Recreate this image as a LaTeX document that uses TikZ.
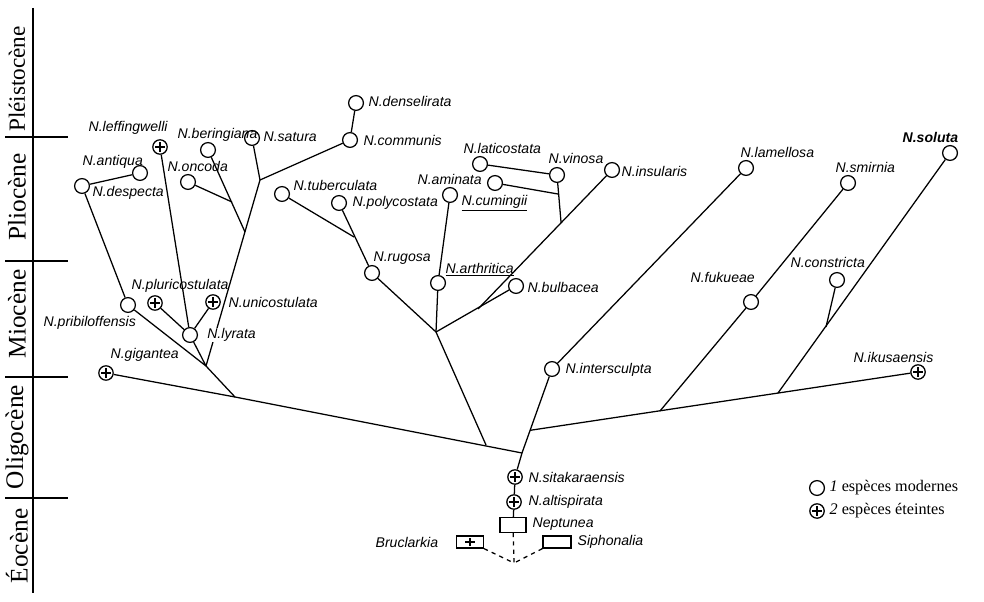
\documentclass[tikz,border=0pt]{standalone}
\usepackage{fontspec}
\setmainfont{Liberation Serif}
\newfontfamily\labfont{Liberation Sans}
\usetikzlibrary{calc}

\begin{document}
\begin{tikzpicture}[x=0.025cm,y=-0.025cm,line width=0.9pt,
   vivant/.style={circle,draw,line width=0.9pt,minimum size=0.37cm,inner sep=0pt},
   eteint/.style={vivant,minimum size=0.36cm,path picture={
      \draw[line width=0.8pt] ([xshift=-1.2mm]path picture bounding box.center) -- ([xshift=1.2mm]path picture bounding box.center)
            ([yshift=-1.2mm]path picture bounding box.center) -- ([yshift=1.2mm]path picture bounding box.center);}},
   genre/.style={rectangle,draw,line width=0.9pt,minimum width=0.65cm,minimum height=0.36cm,inner sep=0pt},
   nom/.style={anchor=west,inner sep=0pt,font=\labfont\itshape\fontsize{10}{12}\selectfont},
   epoque/.style={rotate=90,inner sep=0pt,font=\fontsize{18}{20}\selectfont}]
   \useasboundingbox (0,0) rectangle (984,602);

   % echelle des temps
   \draw (33,8) -- (33,593);
   \foreach \y in {137,261,377,498} \draw (5,\y) -- (68,\y);
   \node[epoque,font=\fontsize{16.5}{18}\selectfont] (pleis) at (17,79) {Pléistocène};
   \node[epoque] (plio) at (17,197) {Pliocène};
   \node[epoque] (mio) at (17,314) {Miocène};
   \node[epoque] (oligo) at (17,437) {Oligocène};
   \node[epoque] (eo) at (17,546) {Éocène};

   % especes modernes
   \node[vivant] (dens) at (356,103) {};
   \node[vivant] (comm) at (350,140) {};
   \node[vivant] (sat) at (252,138) {};
   \node[vivant] (ber) at (208,150) {};
   \node[vivant] (onc) at (188,182) {};
   \node[vivant] (antq) at (140,173) {};
   \node[vivant] (desp) at (82,186) {};
   \node[vivant] (tub) at (282,194) {};
   \node[vivant] (poly) at (339,203) {};
   \node[vivant] (rug) at (372,273) {};
   \node[vivant] (amin) at (450,195) {};
   \node[vivant] (arth) at (438,283) {};
   \node[vivant] (cum) at (495,183) {};
   \node[vivant] (lat) at (480,164) {};
   \node[vivant] (vin) at (557,175) {};
   \node[vivant] (ins) at (612,170) {};
   \node[vivant] (bulb) at (516,286) {};
   \node[vivant] (lam) at (746,168) {};
   \node[vivant] (smir) at (848,183) {};
   \node[vivant] (fuk) at (751,302) {};
   \node[vivant] (sol) at (950,153) {};
   \node[vivant] (cons) at (837,280) {};
   \node[vivant] (inter) at (552,369) {};
   \node[vivant] (prib) at (128,305) {};
   \node[vivant] (lyr) at (190,335) {};

   % especes eteintes
   \node[eteint] (leff) at (160,147) {};
   \node[eteint] (plu) at (155,303) {};
   \node[eteint] (uni) at (213,302) {};
   \node[eteint] (gig) at (106,373) {};
   \node[eteint] (iku) at (918,372) {};
   \node[eteint] (sita) at (515,477) {};
   \node[eteint] (alti) at (514,502) {};

   % genres
   \node[genre] (nept) at (513,525) {};
   \node[genre,minimum width=0.67cm,minimum height=0.3cm,path picture={
      \draw ([xshift=-1.2mm]path picture bounding box.center) -- ([xshift=1.2mm]path picture bounding box.center)
            ([yshift=-1mm]path picture bounding box.center) -- ([yshift=1mm]path picture bounding box.center);}] (bruc) at (470,542) {};
   \node[genre,minimum width=0.7cm,minimum height=0.3cm] (siph) at (557,542) {};

   % points de branchement
   \coordinate (rac) at (522,453);
   \coordinate (j0) at (235,397);
   \coordinate (jLy) at (206,366);
   \coordinate (jSat) at (260,180);
   \coordinate (jBs) at (245,232);
   \coordinate (jOnc) at (232,202);
   \coordinate (jTub) at (354,237);
   \coordinate (jC) at (436,332);
   \coordinate (jArt) at (486,445);
   \coordinate (jIns) at (478,309);
   \coordinate (jVin) at ($(ins)!0.38!(jIns)$);
   \coordinate (jCum) at ($(vin)!0.4!(jVin)$);
   \coordinate (jR) at ($(inter)!0.73!(rac)$);
   \coordinate (jFuk) at (660,411);
   \coordinate (jSol) at (778,393);
   \coordinate (jCons) at (826,327);
   \coordinate (jBas) at (514,563);

   % branches
   \draw (gig) -- (j0) -- (rac);
   \draw (prib) -- (jLy) -- (j0);
   \draw (desp) -- (prib);
   \draw (desp) -- (antq);
   \draw (lyr) -- (jLy);
   \draw (plu) -- (lyr);
   \draw (uni) -- (lyr);
   \draw (leff) -- (lyr);
   \draw (comm) -- (jSat) -- (jLy);
   \draw (dens) -- (comm);
   \draw (sat) -- (jSat);
   \draw (ber) -- (jBs);
   \draw (onc) -- (jOnc);
   \draw (tub) -- (jTub);
   \draw (poly) -- (rug);
   \draw (rug) -- (jC);
   \draw (amin) -- (arth);
   \draw (arth) -- (jC);
   \draw (jC) -- (jArt);
   \draw (jC) -- (bulb);
   \draw (ins) -- (jIns);
   \draw (lat) -- (vin);
   \draw (vin) -- (jVin);
   \draw (cum) -- (jCum);
   \draw (lam) -- (inter);
   \draw (inter) -- (rac);
   \draw (jR) -- (iku);
   \draw (smir) -- (fuk);
   \draw (fuk) -- (jFuk);
   \draw (sol) -- (jSol);
   \draw (cons) -- (jCons);
   \draw (rac) -- (sita) -- (alti) -- (nept);
   \draw[dashed] (nept) -- (jBas);
   \draw[dashed] (bruc.south east) -- (jBas);
   \draw[dashed] (siph.south west) -- (jBas);

   % noms
   \node[nom] (n-dens) at (368,101) {N.denselirata};
   \node[nom] (n-comm) at (363,140) {N.communis};
   \node[nom] (n-sat) at (263,137) {N.satura};
   \node[nom] (n-ber) at (177,135) {N.beringiana};
   \node[nom] (n-leff) at (88,128) {N.leffingwelli};
   \node[nom] (n-antq) at (82,162) {N.antiqua};
   \node[nom] (n-desp) at (92,193) {N.despecta};
   \node[nom] (n-onc) at (167,166) {N.oncoda};
   \node[nom] (n-tub) at (293,185) {N.tuberculata};
   \node[nom] (n-poly) at (352,203) {N.polycostata};
   \node[nom] (n-rug) at (373,258) {N.rugosa};
   \node[nom] (n-amin) at (417,179) {N.aminata};
   \node[nom] (n-arth) at (445,270) {\underline{N.arthritica}};
   \node[nom] (n-cum) at (461,203) {\underline{N.cumingii}};
   \node[nom] (n-lat) at (463,148) {N.laticostata};
   \node[nom] (n-vin) at (548,158) {N.vinosa};
   \node[nom] (n-ins) at (621,171) {N.insularis};
   \node[nom] (n-bulb) at (527,287) {N.bulbacea};
   \node[nom] (n-lam) at (740,152) {N.lamellosa};
   \node[nom] (n-smir) at (835,167) {N.smirnia};
   \node[nom] (n-fuk) at (690,277) {N.fukueae};
   \node[nom] (n-sol) at (902,137) {\bfseries N.soluta};
   \node[nom] (n-cons) at (790,262) {N.constricta};
   \node[nom] (n-iku) at (853,357) {N.ikusaensis};
   \node[nom] (n-inter) at (565,370) {N.intersculpta};
   \node[nom] (n-plu) at (131,286) {N.pluricostulata};
   \node[nom] (n-uni) at (228,302) {N.unicostulata};
   \node[nom,fill=white,inner sep=0.5pt] (n-lyr) at (206,335) {N.lyrata};
   \node[nom] (n-prib) at (43,323) {N.pribiloffensis};
   \node[nom] (n-gig) at (110,355) {N.gigantea};
   \node[nom] (n-sita) at (528,477) {N.sitakaraensis};
   \node[nom] (n-alti) at (528,502) {N.altispirata};
   \node[nom] (n-nept) at (532,524) {Neptunea};
   \node[nom] (n-bruc) at (375,542) {Bruclarkia};
   \node[nom] (n-siph) at (577,542) {Siphonalia};

   % legende
   \node[vivant] (leg1) at (817,488) {};
   \node[eteint] (leg2) at (817,511) {};
   \node[anchor=west,inner sep=0pt,font=\fontsize{11.5}{13}\selectfont] (t-leg1) at (829,488) {\textit{1} espèces modernes};
   \node[anchor=west,inner sep=0pt,font=\fontsize{11.5}{13}\selectfont] (t-leg2) at (829,511) {\textit{2} espèces éteintes};
\end{tikzpicture}
\end{document}
